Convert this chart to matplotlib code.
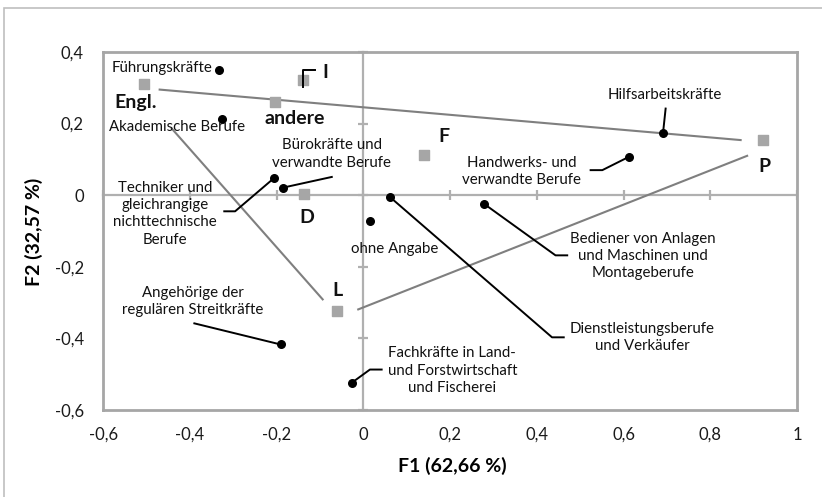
import matplotlib
matplotlib.use('Agg')
import numpy as np
from matplotlib import pyplot as plt
from matplotlib.patches import Rectangle

# Berufsgruppen (schwarze Punkte)
berufe = ['Führungskräfte', 'Akademische Berufe',
          'Techniker und\ngleichrangige\nnichttechnische\nBerufe',
          'Bürokräfte und\nverwandte Berufe', 'Dienstleistungsberufe\nund Verkäufer',
          'Fachkräfte in Land-\nund Forstwirtschaft\nund Fischerei',
          'Handwerks- und\nverwandte Berufe',
          'Bediener von Anlagen\nund Maschinen und\nMontageberufe',
          'Hilfsarbeitskräfte', 'Angehörige der\nregulären Streitkräfte', 'ohne Angabe']
berufe_f1 = [-0.333, -0.327, -0.206, -0.186, 0.062, -0.027, 0.612, 0.278, 0.691, -0.191, 0.015]
berufe_f2 = [0.349, 0.214, 0.048, 0.021, -0.006, -0.524, 0.107, -0.024, 0.174, -0.417, -0.071]

# Sprachen (graue Quadrate)
sprachen = ['Engl.', 'andere', 'I', 'D', 'F', 'P', 'L']
sprachen_f1 = [-0.506, -0.203, -0.139, -0.137, 0.139, 0.922, -0.060]
sprachen_f2 = [0.310, 0.259, 0.321, 0.003, 0.112, 0.154, -0.324]

# eingezeichnete Verbindungslinien (Anfang, Ende)
linien_f1 = [(-0.470, 0.870), (-0.442, -0.094), (-0.012, 0.885)]
linien_f2 = [(0.295, 0.154), (0.186, -0.291), (-0.319, 0.110)]

xticks = [-0.6, -0.4, -0.2, 0, 0.2, 0.4, 0.6, 0.8, 1]
yticks = [-0.6, -0.4, -0.2, 0, 0.2, 0.4]

# Beschriftungen: Position + Ausrichtung, Führungslinie (Knickpunkte)
lab_berufe = [
    ((-0.347, 0.355), 'right', []),
    ((-0.431, 0.191), 'center', []),
    ((-0.458, -0.052), 'center', [(-0.321, -0.045), (-0.296, -0.045)]),
    ((-0.073, 0.115), 'center', [(-0.073, 0.051)]),
    ((0.643, -0.398), 'center', [(0.462, -0.397), (0.435, -0.397)]),
    ((0.205, -0.490), 'center', [(0.042, -0.487), (0.015, -0.487)]),
    ((0.364, 0.067), 'center', [(0.524, 0.070), (0.551, 0.070)]),
    ((0.644, -0.170), 'center', [(0.470, -0.168), (0.443, -0.168)]),
    ((0.695, 0.279), 'center', [(0.697, 0.242)]),
    ((-0.393, -0.297), 'center', [(-0.390, -0.358)]),
    ((0.071, -0.149), 'center', []),
]
lab_sprachen = [(-0.525, 0.258), (-0.158, 0.214), (-0.088, 0.344), (-0.131, -0.061),
                (0.185, 0.163), (0.924, 0.079), (-0.060, -0.265)]


def main():
    plt.rcParams['font.family'] = ['Lato', 'DejaVu Sans']
    fig = plt.figure(figsize=(8.22, 4.97), dpi=100)

    # äußerer Rahmen
    fig.patches.append(Rectangle((4 / 822, -0.2), 1.2, 1.2 - 8 / 497,
                                 transform=fig.transFigure, fill=False,
                                 edgecolor='#BFBFBF', lw=1.2))

    pos = [103.3 / 822, 1 - 410 / 497, (797 - 103.3) / 822, (410 - 52) / 497]

    # Achsenkreuz bei 0
    axc = fig.add_axes(pos)
    axc.set_xlim(-0.6, 1)
    axc.set_ylim(-0.6, 0.4)
    axc.spines['top'].set_visible(False)
    axc.spines['right'].set_visible(False)
    axc.spines['left'].set_position(('data', 0))
    axc.spines['bottom'].set_position(('data', 0))
    for s in ['left', 'bottom']:
        axc.spines[s].set_color('#B0B0B0')
        axc.spines[s].set_linewidth(1.6)
    axc.set_xticks(xticks)
    axc.set_yticks(yticks)
    axc.tick_params(direction='inout', length=7, width=1.6, color='#B0B0B0',
                    labelbottom=False, labelleft=False)
    axc.patch.set_visible(False)

    ax = fig.add_axes(pos, zorder=2)
    ax.patch.set_visible(False)
    ax.set_xlim(-0.6, 1)
    ax.set_ylim(-0.6, 0.4)
    for s in ax.spines.values():
        s.set_color('#A6A6A6')
        s.set_linewidth(2)
    ax.set_xticks(xticks)
    ax.set_yticks(yticks)
    ax.set_xticklabels([('%g' % t).replace('.', ',') for t in xticks])
    ax.set_yticklabels([('%g' % t).replace('.', ',') for t in yticks])
    ax.tick_params(length=0, labelsize=12, labelcolor='#1a1a1a')
    ax.tick_params(axis='x', pad=12)
    ax.tick_params(axis='y', pad=14)

    fig.text(452 / 822, 1 - 466 / 497, 'F1 (62,66 %)', ha='center', va='center',
             fontsize=14, fontweight='bold')
    fig.text(34 / 822, 1 - 232 / 497, 'F2 (32,57 %)', ha='center', va='center',
             fontsize=14, fontweight='bold', rotation=90)

    for lx, ly in zip(linien_f1, linien_f2):
        ax.plot(lx, ly, color='#7F7F7F', lw=1.5, zorder=2)

    ax.scatter(sprachen_f1, sprachen_f2, marker='s', s=55, color='#A6A6A6', zorder=3)
    ax.scatter(berufe_f1, berufe_f2, marker='o', s=30, color='black', zorder=4)

    for i, name in enumerate(berufe):
        (tx, ty), ha, knee = lab_berufe[i]
        ax.text(tx, ty, name, ha=ha, va='center', fontsize=10.8, color='#111111',
                linespacing=1.3, zorder=5)
        if knee:
            px = [k[0] for k in knee] + [berufe_f1[i]]
            py = [k[1] for k in knee] + [berufe_f2[i]]
            ax.plot(px, py, color='black', lw=1.4, zorder=4)

    for i, name in enumerate(sprachen):
        tx, ty = lab_sprachen[i]
        ax.text(tx, ty, name, ha='center', va='center', fontsize=14,
                fontweight='bold', color='#111111', zorder=5)
    # Führungslinie zu "I"
    ax.plot([sprachen_f1[2], sprachen_f1[2], sprachen_f1[2] + 0.027],
            [sprachen_f2[2] - 0.018, sprachen_f2[2] + 0.028, sprachen_f2[2] + 0.028],
            color='black', lw=1.4, zorder=4)

    plt.savefig('out.png', dpi=100)


if __name__ == "__main__":
    main()
